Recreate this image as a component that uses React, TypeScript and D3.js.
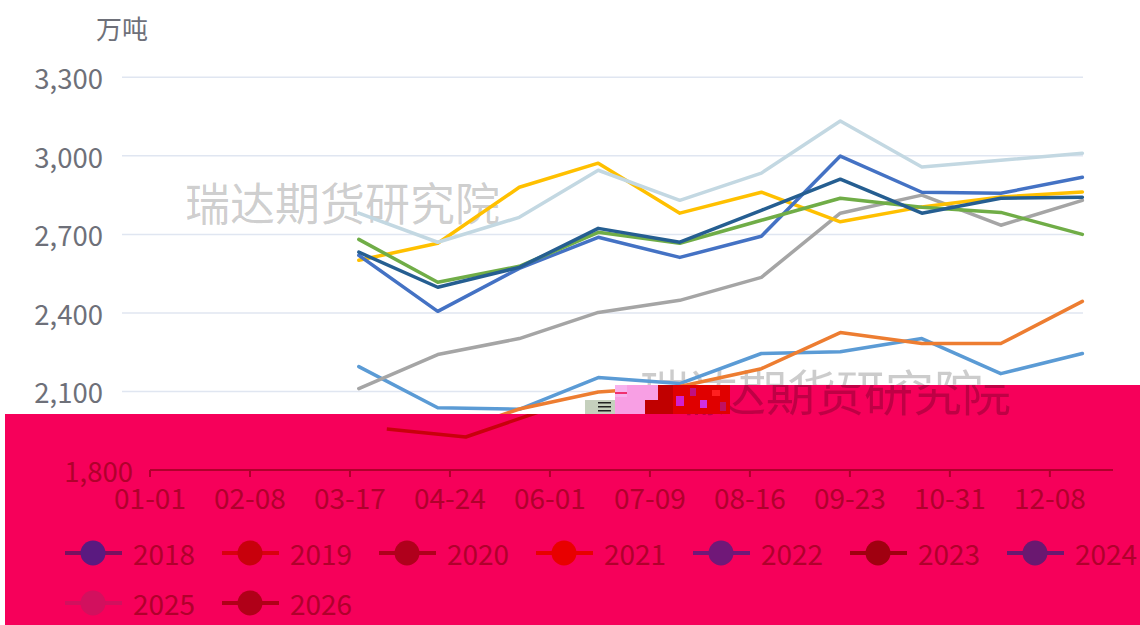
import React, { useEffect } from "react";
import * as d3 from "d3";

// ---------- data ----------
const years = ["2018", "2019", "2020", "2021", "2022", "2023", "2024", "2025", "2026"];
const dates = ["03-31", "04-30", "05-31", "06-30", "07-31", "08-31", "09-30", "10-31", "11-30", "12-31"];
const tickLabels = ["01-01", "02-08", "03-17", "04-24", "06-01", "07-09", "08-16", "09-23", "10-31", "12-08"];
const yTicks = [1800, 2100, 2400, 2700, 3000, 3300];

const v2018 = [2195, 2038, 2032, 2153, 2130, 2245, 2252, 2302, 2168, 2245];
const v2019 = [1957, 1926, 2033, 2098, 2119, 2187, 2325, 2283, 2283, 2444];
const v2020 = [2111, 2241, 2302, 2402, 2448, 2536, 2781, 2850, 2735, 2830];
const v2021 = [2601, 2666, 2880, 2972, 2781, 2861, 2748, 2805, 2843, 2862];
const v2022 = [2620, 2406, 2570, 2689, 2612, 2693, 2999, 2861, 2857, 2918];
const v2023 = [2681, 2517, 2578, 2708, 2666, 2754, 2838, 2804, 2784, 2700];
const v2024 = [2632, 2498, 2574, 2723, 2670, 2792, 2911, 2781, 2838, 2842];
const v2025 = [2781, 2670, 2765, 2945, 2830, 2934, 3133, 2957, 2983, 3010];
const v2026: number[] = [];

const seriesValues = [v2018, v2019, v2020, v2021, v2022, v2023, v2024, v2025, v2026];
const colors = ["#5b9bd5", "#ed7d31", "#a5a5a5", "#ffc000", "#4472c4", "#70ad47", "#255e91", "#c3d8e2", "#9e480e"];
// colours of the same series inside the corrupted (pink) band of the picture
const glitchColors = ["#5a1a80", "#c8000c", "#b0001c", "#e80000", "#701878", "#a00010", "#6a1870", "#d2105e", "#b00018"];
const glitchLineColors = ["#7a1060", "#d80010", "#b0001c", "#e80000", "#701878", "#a00010", "#6a1870", "#d2105e", "#b00018"];
const visibleInBand = [false, true, false, false, false, false, false, false, false];

const unit = "万吨";
const watermark = "瑞达期货研究院";

const W = 1140;
const H = 625;
const SHIFT = -28; // horizontal offset of the upper part of the picture
const FONT = "'Microsoft YaHei', 'Noto Sans CJK SC', 'Noto Sans', sans-serif";
const PINK = "#f6005a";
const DARK = "#b0002c";

const parseDay = (md: string) => d3.timeParse("%Y-%m-%d")("2020-" + md) as Date;

export default function App() {
  useEffect(() => {
    document.body.style.margin = "0";
  }, []);

  const x = d3.scaleTime().domain([new Date(2020, 0, 1), new Date(2021, 0, 1)]).range([150, 1113]);
  const y = d3.scaleLinear().domain([1800, 3300]).range([470, 77.3]);
  const line = d3
    .line<{ d: Date; v: number }>()
    .x((p) => x(p.d))
    .y((p) => y(p.v));
  const fmt = d3.format(",");

  const series = seriesValues.map((vals) => vals.map((v, i) => ({ d: parseDay(dates[i]), v })));
  const ticks = tickLabels.map(parseDay);

  const pinkPath = "M5,414 H730 V385 H1140 V625 H5 Z";
  const upperPath = "M0,0 H1140 V385 H730 V414 H0 Z";

  return (
    <svg width={W} height={H} style={{ position: "absolute", left: 0, top: 0, display: "block" }} fontFamily={FONT}>
      <defs>
        <clipPath id="pinkClip">
          <path d={pinkPath} />
        </clipPath>
        <clipPath id="upperClip">
          <path d={upperPath} transform={`translate(${-SHIFT},0)`} />
        </clipPath>
      </defs>
      <rect x={0} y={0} width={W} height={H} fill="#fff" />

      {/* upper part (shifted) */}
      <g transform={`translate(${SHIFT},0)`}>
        {yTicks.slice(1).map((t) => (
          <line key={"g" + t} x1={x.range()[0]} x2={x.range()[1] - 2} y1={y(t)} y2={y(t)} stroke="#e0e6f1" strokeWidth={1.5} />
        ))}
        {yTicks.slice(1).map((t) => (
          <text key={"l" + t} x={131} y={y(t)} textAnchor="end" dominantBaseline="central" fontSize={27.5} fill="#6e7079">
            {fmt(t)}
          </text>
        ))}
        <text x={150} y={27} textAnchor="middle" dominantBaseline="central" fontSize={26} fill="#6e7079">
          {unit}
        </text>
        <text x={213} y={201} dominantBaseline="central" fontSize={45} fill="#000" fillOpacity={0.2}>
          {watermark}
        </text>
        <g clipPath="url(#upperClip)">
          <text x={668} y={389} dominantBaseline="central" fontSize={49} fill="#000" fillOpacity={0.2}>
            {watermark}
          </text>
        </g>
        {series.map((s, i) =>
          s.length ? (
            <path key={"s" + i} d={line(s) || ""} fill="none" stroke={colors[i]} strokeWidth={3.5} strokeLinejoin="round" strokeLinecap="round" />
          ) : null
        )}
      </g>

      {/* corrupted band */}
      <path d={pinkPath} fill={PINK} />
      <g>
        <rect x={585} y={400} width={30} height={14} fill="#c5d0bd" />
        <rect x={598} y={402} width={13} height={1.5} fill="#222" />
        <rect x={598} y={406} width={13} height={1.5} fill="#222" />
        <rect x={598} y={410} width={13} height={1.5} fill="#222" />
        <rect x={615} y={385} width={30} height={29} fill="#f89fe4" />
        <rect x={615} y={385} width={12} height={12} fill="#f7b3ee" />
        <rect x={615} y={392} width={12} height={2} fill="#f03070" />
        <rect x={645} y={385} width={13} height={15} fill="#f89fe4" />
        <rect x={645} y={400} width={13} height={14} fill="#c00000" />
        <rect x={658} y={385} width={15} height={29} fill="#c00000" />
        <rect x={673} y={385} width={57} height={29} fill="#e00000" />
        <rect x={676} y={396} width={8} height={10} fill="#d020d0" />
        <rect x={690} y={388} width={6} height={8} fill="#c01080" />
        <rect x={700} y={400} width={7} height={8} fill="#d030e0" />
        <rect x={712} y={390} width={8} height={6} fill="#ff2020" />
        <rect x={720} y={402} width={6} height={9} fill="#c01060" />
      </g>
      <g clipPath="url(#pinkClip)">
        <text x={668} y={389} dominantBaseline="central" fontSize={49} fill="#5a0020" fillOpacity={0.35}>
          {watermark}
        </text>
        {series.map((s, i) =>
          s.length && visibleInBand[i] ? (
            <path key={"gs" + i} d={line(s) || ""} fill="none" stroke={glitchColors[i]} strokeWidth={3.5} strokeLinejoin="round" />
          ) : null
        )}
      </g>

      {/* x axis */}
      <line x1={x.range()[0]} x2={x.range()[1]} y1={y(1800)} y2={y(1800)} stroke={DARK} strokeWidth={2} />
      {ticks.map((t, i) => (
        <g key={"t" + i}>
          <line x1={x(t)} x2={x(t)} y1={y(1800)} y2={y(1800) + 7} stroke={DARK} strokeWidth={2} />
          <text x={x(t)} y={497} textAnchor="middle" dominantBaseline="central" fontSize={28} fill={DARK}>
            {tickLabels[i]}
          </text>
        </g>
      ))}
      <text x={133} y={y(1800)} textAnchor="end" dominantBaseline="central" fontSize={27.5} fill={DARK}>
        {fmt(yTicks[0])}
      </text>

      {/* legend */}
      {years.map((yr, i) => {
        const row = Math.floor(i / 7);
        const col = i % 7;
        const x0 = 65 + col * 157;
        const cy = 553 + row * 50;
        return (
          <g key={"lg" + yr}>
            <line x1={x0} x2={x0 + 57} y1={cy} y2={cy} stroke={glitchLineColors[i]} strokeWidth={4} />
            <circle cx={x0 + 28} cy={cy} r={12.5} fill={glitchColors[i]} />
            <text x={x0 + 68} y={cy} dominantBaseline="central" fontSize={28} fill={DARK}>
              {yr}
            </text>
          </g>
        );
      })}
    </svg>
  );
}
